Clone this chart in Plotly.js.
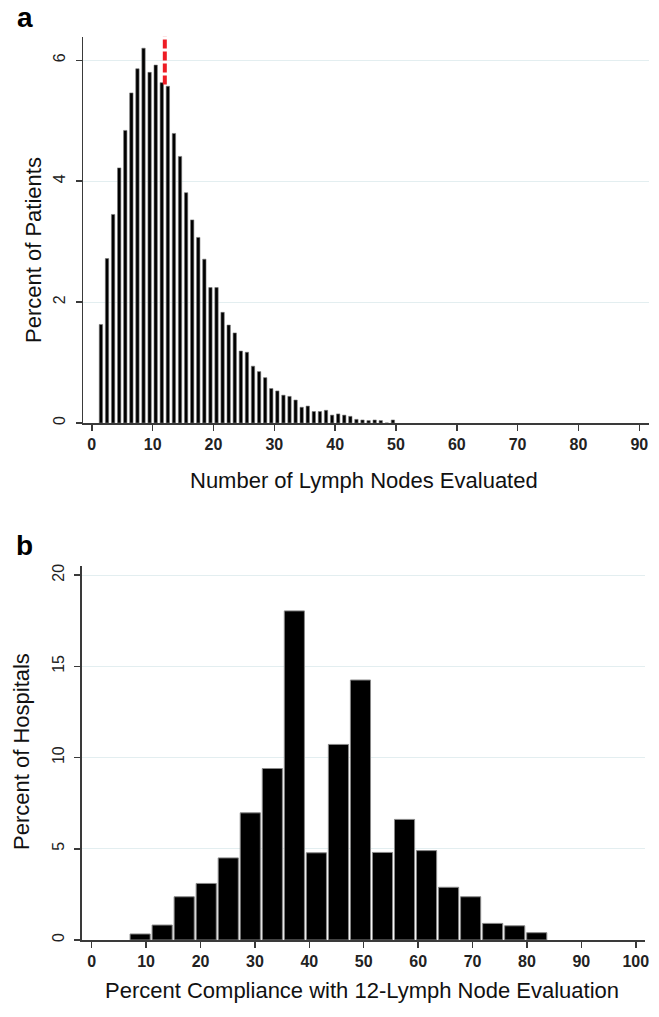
<!DOCTYPE html>
<html><head><meta charset="utf-8">
<script src="https://cdn.plot.ly/plotly-3.0.1.min.js"></script>
<style>html,body{margin:0;padding:0;background:#fff}#chart{width:659px;height:1017px}</style>
</head><body><div id="chart"></div>
<script>
// ---- Panel a data: number of lymph nodes evaluated ----
const lymphNodes = [1,2,3,4,5,6,7,8,9,10,11,12,13,14,15,16,17,18,19,20,21,22,23,24,25,26,27,28,29,30,31,32,33,34,35,36,37,38,39,40,41,42,43,44,45,46,47,48,49];
const pctPatients = [1.63,2.72,3.45,4.22,4.84,5.46,5.86,6.20,5.80,5.92,5.63,5.57,4.79,4.41,3.81,3.36,3.07,2.71,2.24,2.24,1.83,1.62,1.49,1.19,1.17,0.94,0.85,0.75,0.57,0.53,0.46,0.44,0.38,0.26,0.28,0.19,0.19,0.21,0.13,0.15,0.13,0.11,0.06,0.05,0.04,0.05,0.04,0.0,0.05];
const cutoffNodes = [12, 12];
const cutoffMark = [5.6, 6.4];
const xTicksA = [0,10,20,30,40,50,60,70,80,90];
const yTicksA = [0,2,4,6];

// ---- Panel b data: percent compliance with 12-lymph node evaluation ----
const complianceBins = [8.9,12.95,17.0,21.05,25.1,29.15,33.2,37.25,41.3,45.35,49.4,53.45,57.5,61.55,65.6,69.65,73.7,77.75,81.8];
const pctHospitals = [0.33,0.82,2.37,3.1,4.5,6.97,9.4,18.04,4.78,10.72,14.25,4.8,6.61,4.9,2.89,2.37,0.91,0.78,0.4];
const xTicksB = [0,10,20,30,40,50,60,70,80,90,100];
const yTicksB = [0,5,10,15,20];

const W = 659, H = 1017;
const px = x => x / W;
const py = y => 1 - y / H;

const FONT = 'Liberation Sans, Arial, sans-serif';
const gridCol = '#e3eef0';
const axisCol = '#3a3a3a';

const traces = [
  {type:'bar', x: lymphNodes, y: pctPatients, xaxis:'x', yaxis:'y',
   width: 0.55, offset: 0.225,
   marker:{color:'#000', line:{color:'#777', width:0.6}}, hoverinfo:'x+y'},
  {type:'scatter', mode:'lines', x: cutoffNodes, y: cutoffMark, xaxis:'x', yaxis:'y',
   line:{color:'#ee1c25', width:4, dash:'9px,3px'}},
  {type:'bar', x: complianceBins, y: pctHospitals, xaxis:'x2', yaxis:'y2',
   width: 3.7,
   marker:{color:'#000', line:{color:'#888', width:1}}, hoverinfo:'x+y'}
];

function xAxis(domain, range, ticks, anchor){
  return {domain, range, anchor, tickmode:'array', tickvals: ticks, ticktext: ticks.map(String),
    showline:true, linecolor:axisCol, linewidth:1.5, ticks:'outside', ticklen:6, tickwidth:1.5,
    tickcolor:axisCol, showgrid:false, zeroline:false, fixedrange:true, ticklabelstandoff:0,
    tickfont:{family:FONT, size:16, color:'#222', weight:'bold'}};
}
function yAxis(domain, range, ticks, anchor){
  return {domain, range, anchor, tickmode:'array', tickvals: ticks, ticktext: ticks.map(String),
    showline:true, linecolor:axisCol, linewidth:1.5, ticks:'outside', ticklen:6, tickwidth:1.5,
    tickcolor:axisCol, showgrid:true, gridcolor:gridCol, gridwidth:1, zeroline:false,
    tickangle:-90, fixedrange:true, ticklabelstandoff:4,
    tickfont:{family:FONT, size:16, color:'#222'}};
}

const layout = {
  width: W, height: H,
  margin:{l:0, r:0, t:0, b:0},
  paper_bgcolor:'#fff', plot_bgcolor:'#fff',
  showlegend:false,
  bargap:0,
  xaxis: xAxis([px(83.3), px(649)], [-1.4, 91.6], xTicksA, 'y'),
  yaxis: yAxis([py(423), py(36.7)], [0, 6.39], yTicksA, 'x'),
  xaxis2: xAxis([px(81.7), px(645)], [-1.84, 101.7], xTicksB, 'y2'),
  yaxis2: yAxis([py(940), py(566)], [0, 20.5], yTicksB, 'x2'),
  annotations: [
    {text:'<b>a</b>', xref:'paper', yref:'paper', x:px(15), y:py(17), xanchor:'left', yanchor:'middle',
     showarrow:false, font:{family:FONT, size:28, color:'#000'}},
    {text:'<b>b</b>', xref:'paper', yref:'paper', x:px(14), y:py(545), xanchor:'left', yanchor:'middle',
     showarrow:false, font:{family:FONT, size:28, color:'#000'}},
    {text:'Number of Lymph Nodes Evaluated', xref:'paper', yref:'paper', x:px(364), y:py(480),
     xanchor:'center', yanchor:'middle', showarrow:false, font:{family:FONT, size:22, color:'#111'}},
    {text:'Percent Compliance with 12-Lymph Node Evaluation', xref:'paper', yref:'paper', x:px(362), y:py(990),
     xanchor:'center', yanchor:'middle', showarrow:false, font:{family:FONT, size:22, color:'#111'}},
    {text:'Percent of Patients', xref:'paper', yref:'paper', x:px(33), y:py(250), textangle:-90,
     xanchor:'center', yanchor:'middle', showarrow:false, font:{family:FONT, size:22, color:'#111'}},
    {text:'Percent of Hospitals', xref:'paper', yref:'paper', x:px(21), y:py(752), textangle:-90,
     xanchor:'center', yanchor:'middle', showarrow:false, font:{family:FONT, size:22, color:'#111'}}
  ]
};

Plotly.newPlot('chart', traces, layout, {displayModeBar:false, staticPlot:true});
</script>
</body></html>
